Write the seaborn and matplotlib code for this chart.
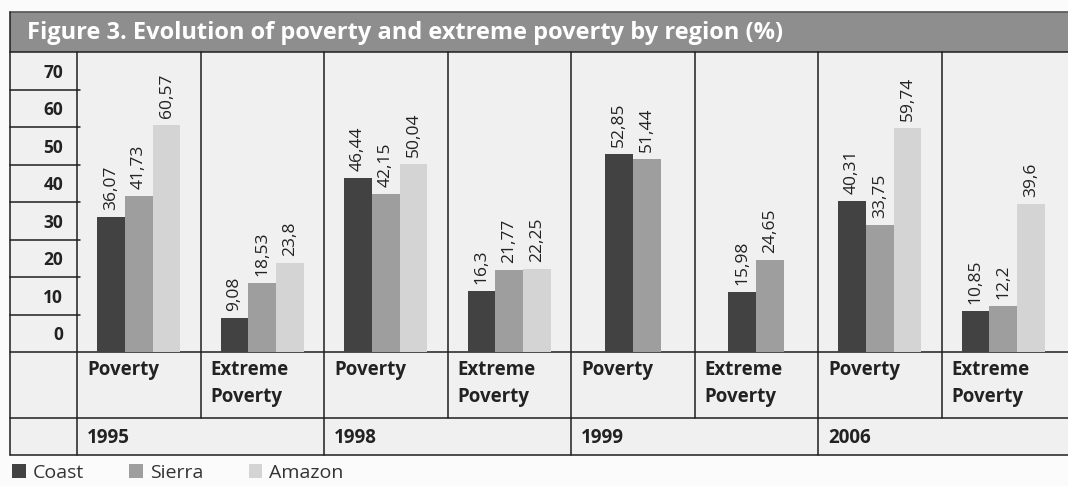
import numpy as np
import pandas as pd
import seaborn as sns
import matplotlib.pyplot as plt
from matplotlib.patches import Rectangle

# ---- data -------------------------------------------------------------
years = ["1995", "1998", "1999", "2006"]
measures = ["Poverty", "Extreme\nPoverty"]
regions = ["Coast", "Sierra", "Amazon"]
coast = [36.07, 9.08, 46.44, 16.3, 52.85, 15.98, 40.31, 10.85]
sierra = [41.73, 18.53, 42.15, 21.77, 51.44, 24.65, 33.75, 12.2]
amazon = [60.57, 23.8, 50.04, 22.25, np.nan, np.nan, 59.74, 39.6]
y_ticks = [0, 10, 20, 30, 40, 50, 60, 70]
title = "Figure 3. Evolution of poverty and extreme poverty by region (%)"

colors = {"Coast": "#424242", "Sierra": "#9e9e9e", "Amazon": "#d4d4d4"}

# ---- layout (pixels) --------------------------------------------------
W, H = 1068, 486
LEFT, LABEL_COL = 10, 77
COL_W = 123.5
TOP_TITLE, TOP_PLOT, BASE, ROW2, BOTTOM = 12, 52, 352, 418, 455
BAR = 0.225  # bar width in column units
LINE = "#1e1e1e"
TXT = "#222222"

sns.set_theme(style="white")
plt.rcParams["font.family"] = ["Open Sans", "DejaVu Sans"]

# long table: one row per drawn bar, bars centred inside their column
rows = []
for col in range(len(coast)):
    present = [(r, v) for r, v in zip(regions, (coast[col], sierra[col], amazon[col]))
               if not np.isnan(v)]
    n = len(present)
    for k, (r, v) in enumerate(present):
        rows.append({"pos": col + (k - (n - 1) / 2) * BAR, "region": r, "value": v})
df = pd.DataFrame(rows)

fig = plt.figure(figsize=(W / 100, H / 100), dpi=100)
fig.patch.set_facecolor("#fbfbfb")


def rect(x0, y0, x1, y1):
    return [x0 / W, 1 - y1 / H, (x1 - x0) / W, (y1 - y0) / H]


# background frame in pixel units
bg = fig.add_axes([0, 0, 1, 1], zorder=0)
bg.set_xlim(0, W)
bg.set_ylim(H, 0)
bg.axis("off")
bg.add_patch(Rectangle((LEFT, TOP_PLOT), W - LEFT, BOTTOM - TOP_PLOT,
                       facecolor="#f0f0f0", edgecolor="none"))
bg.add_patch(Rectangle((LEFT, TOP_TITLE), W - LEFT, TOP_PLOT - TOP_TITLE,
                       facecolor="#8e8e8e", edgecolor="none"))
bg.plot([LEFT, W], [TOP_TITLE, TOP_TITLE], color="#555555", lw=1.2)
bg.text(27, (TOP_TITLE + TOP_PLOT) / 2 + 1, title, color="white",
        fontsize=17, fontweight="bold", va="center", ha="left")

lw = 1.1
for y in (TOP_PLOT, BASE, ROW2, BOTTOM):
    bg.plot([LEFT, W], [y, y], color=LINE, lw=lw)
for x in (LEFT, LABEL_COL):
    bg.plot([x, x], [TOP_TITLE if x == LEFT else TOP_PLOT, BOTTOM], color=LINE, lw=lw)
for k in range(1, 8):
    x = LABEL_COL + k * COL_W
    bg.plot([x, x], [TOP_PLOT, BOTTOM if k % 2 == 0 else ROW2], color=LINE, lw=lw)

# category and year rows
for col in range(len(coast)):
    x = LABEL_COL + col * COL_W + 10
    bg.text(x, BASE + 8, measures[col % 2], fontsize=13.5, fontweight="bold",
            ha="left", va="top", color=TXT, linespacing=1.45)
for i, yr in enumerate(years):
    x = LABEL_COL + 2 * i * COL_W + 10
    bg.text(x, (ROW2 + BOTTOM) / 2 + 1, yr, fontsize=13.5, fontweight="bold",
            ha="left", va="center", color=TXT)

# bar panel
ax = fig.add_axes(rect(LABEL_COL, TOP_PLOT, LABEL_COL + 8 * COL_W, BASE), zorder=1)
ax.patch.set_alpha(0)
sns.barplot(data=df, x="pos", y="value", hue="region", hue_order=regions,
            palette=colors, native_scale=True, dodge=False, width=1.0,
            saturation=1, errorbar=None, linewidth=0, ax=ax)
ax.set_xlim(-0.5, 7.5)
ax.set_ylim(0, 80)
ax.set_xlabel("")
ax.set_ylabel("")
ax.set_xticks([])
for s in ax.spines.values():
    s.set_visible(False)

for c in ax.containers:
    ax.bar_label(c, fmt=lambda v: f"{v:g}".replace(".", ","), rotation=90,
                 padding=5, fontsize=12.5, color=TXT)

# scale column: labels sit in the cells between the ruled lines
ax.set_yticks([t + 5 for t in y_ticks], labels=[str(t) for t in y_ticks])
ax.tick_params(axis="y", length=0, pad=10, labelsize=12.5)
for lab in ax.get_yticklabels():
    lab.set_fontweight("bold")
    lab.set_color(TXT)
for t in y_ticks[1:]:
    ax.axhline(t, xmin=-(LABEL_COL - LEFT) / (8 * COL_W), xmax=0.003,
               color=LINE, lw=lw, clip_on=False)

handles, labels = ax.get_legend_handles_labels()
ax.get_legend().remove()
fig.legend(handles, labels, loc="center left", bbox_to_anchor=(12 / W, 1 - 473 / H),
           ncol=3, frameon=False, fontsize=14, handlelength=0.7, handleheight=0.7,
           handletextpad=0.35, columnspacing=2.35, borderaxespad=0, borderpad=0,
           labelcolor="#333333")

fig.savefig("out.png", dpi=100, facecolor=fig.get_facecolor())
